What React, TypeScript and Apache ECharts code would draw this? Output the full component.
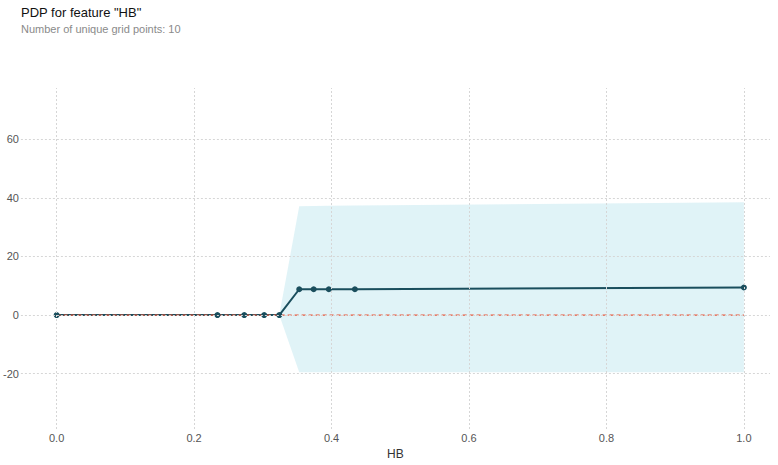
import React, { useEffect, useRef } from "react";
import * as echarts from "echarts";

const gridX = [0, 0.234, 0.273, 0.302, 0.324, 0.353, 0.374, 0.396, 0.434, 1.0];
const pdpValues = [0, 0, 0, 0, 0, 8.8, 8.8, 8.8, 8.8, 9.4];
const upperValues = [0, 0, 0, 0, 0, 37.1, 37.2, 37.3, 37.4, 38.5];
const lowerValues = [0, 0, 0, 0, 0, -19.5, -19.5, -19.5, -19.5, -19.5];
const xTicks = [0, 0.2, 0.4, 0.6, 0.8, 1.0];
const yTicks = [-20, 0, 20, 40, 60];

const FONT = "Liberation Sans, Arial, sans-serif";

export default function App() {
  const ref = useRef<HTMLDivElement>(null);
  useEffect(() => {
    if (!ref.current) return;
    const chart = echarts.init(ref.current, undefined, { renderer: "svg" });
    const pts = (ys: number[]) => gridX.map((x, i) => [x, ys[i]]);
    const bandColor = "rgba(102,194,215,0.2)";
    chart.setOption({
      animation: false,
      backgroundColor: "#ffffff",
      textStyle: { fontFamily: FONT },
      title: [
        {
          text: 'PDP for feature "HB"',
          left: 16,
          top: 1,
          textStyle: { fontSize: 13, fontWeight: "normal", color: "#111", fontFamily: FONT },
        },
        {
          text: "Number of unique grid points: 10",
          left: 16,
          top: 18,
          textStyle: { fontSize: 11, fontWeight: "normal", color: "#8a8a8a", fontFamily: FONT },
        },
      ],
      grid: { left: 15, right: 8, top: 88, bottom: 24, containLabel: false },
      xAxis: {
        type: "value",
        min: -0.052,
        max: 1.038,
        name: "HB",
        nameLocation: "middle",
        nameGap: 19,
        nameTextStyle: { fontSize: 12, color: "#333", fontFamily: FONT },
        axisLine: { show: false },
        axisTick: { show: false },
        splitLine: { show: false },
        axisLabel: {
          customValues: xTicks,
          margin: 3,
          fontSize: 11,
          color: "#555",
          fontFamily: FONT,
          formatter: (v: number) => v.toFixed(1),
        },
      },
      yAxis: {
        type: "value",
        min: -38.9,
        max: 77.5,
        axisLine: { show: false },
        axisTick: { show: false },
        splitLine: { show: false },
        axisLabel: {
          customValues: yTicks,
          margin: 2,
          fontSize: 11,
          color: "#555",
          fontFamily: FONT,
          formatter: (v: number) => String(Math.round(v)),
        },
      },
      series: [
        {
          name: "grid",
          type: "line",
          data: [[0, 0]],
          symbol: "none",
          lineStyle: { width: 0 },
          silent: true,
          z: 0,
          markLine: {
            silent: true,
            symbol: ["none", "none"],
            label: { show: false },
            lineStyle: { type: [2, 2], color: "#d6d6d6", width: 1 },
            data: [
              ...xTicks.map((v) => ({ xAxis: v })),
              ...yTicks.map((v) => ({ yAxis: v })),
            ],
          },
        },
        {
          name: "upper",
          type: "line",
          data: pts(upperValues),
          symbol: "none",
          lineStyle: { width: 0 },
          areaStyle: { color: bandColor, opacity: 1 },
          silent: true,
          z: 1,
        },
        {
          name: "lower",
          type: "line",
          data: pts(lowerValues),
          symbol: "none",
          lineStyle: { width: 0 },
          areaStyle: { color: bandColor, opacity: 1 },
          silent: true,
          z: 1,
        },
        {
          name: "pdp",
          type: "line",
          data: pts(pdpValues),
          symbol: "none",
          lineStyle: { color: "#1A4E5D", width: 2 },
          z: 2,
        },
        {
          name: "zero",
          type: "line",
          data: [
            [0, 0],
            [1, 0],
          ],
          symbol: "none",
          lineStyle: { color: "#E75438", width: 1.3, type: [4, 3] },
          z: 3,
        },
        {
          name: "pdpPoints",
          type: "scatter",
          data: pts(pdpValues),
          symbol: "circle",
          symbolSize: 6,
          itemStyle: { color: "#1A4E5D", opacity: 1 },
          z: 4,
        },
      ],
    });
    return () => chart.dispose();
  }, []);
  return (
    <div
      ref={ref}
      style={{ position: "fixed", left: 0, top: 0, width: 778, height: 465 }}
    />
  );
}
